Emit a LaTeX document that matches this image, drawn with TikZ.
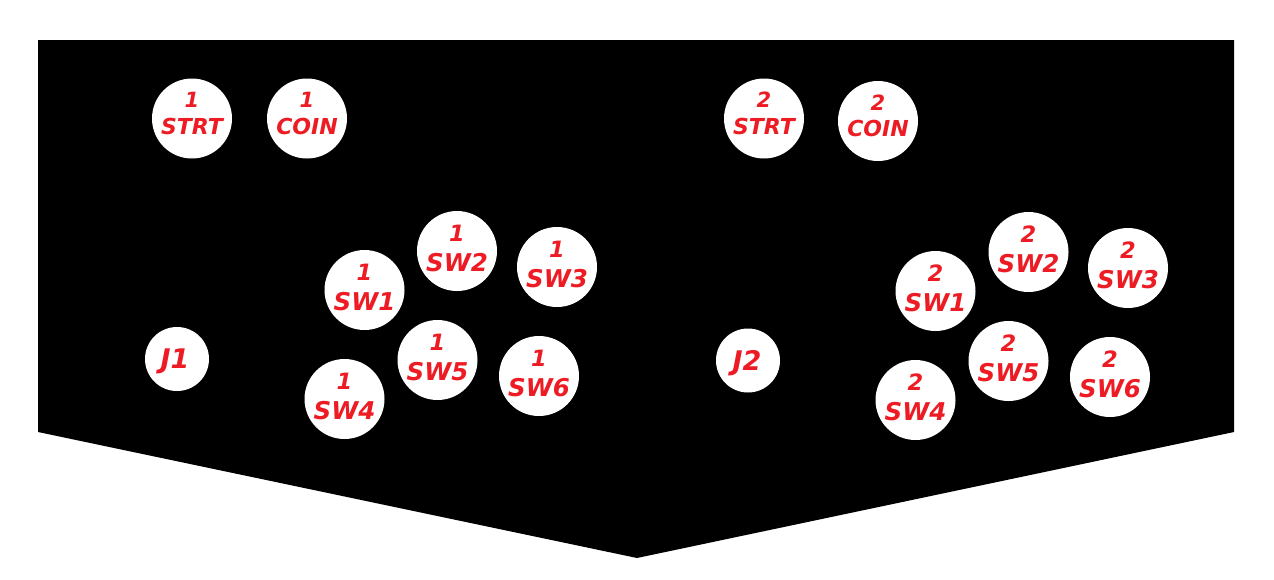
\documentclass[tikz,border=0pt]{standalone}
\usepackage{fontspec}
\newfontfamily\btnfont{DejaVu Sans}
\definecolor{btnred}{HTML}{ED1C24}
\tikzset{
  btn/.style={circle, fill=white, draw=none, inner sep=0pt, minimum size=80pt},
  joy/.style={circle, fill=white, draw=none, inner sep=0pt, minimum size=64pt},
  lbl/.style={text=btnred, inner sep=0pt, anchor=base},
  numA/.style={lbl, font=\btnfont\bfseries\itshape\fontsize{21}{22}\selectfont},
  wordA/.style={lbl, font=\btnfont\bfseries\itshape\fontsize{22}{23}\selectfont},
  numB/.style={lbl, font=\btnfont\bfseries\itshape\fontsize{22.5}{23}\selectfont},
  wordB/.style={lbl, font=\btnfont\bfseries\itshape\fontsize{24.5}{25}\selectfont},
  jlbl/.style={lbl, font=\btnfont\bfseries\itshape\fontsize{27}{28}\selectfont},
}
\newcommand\smallbtn[5]{%
  \node[btn] (#1) at (#2,#3) {};
  \node[numA] (#1-a) at ([yshift=11pt]#1.center) {#4};
  \node[wordA] (#1-b) at ([yshift=-15.5pt]#1.center) {#5};
}
\newcommand\swbtn[5]{%
  \node[btn] (#1) at (#2,#3) {};
  \node[numB] (#1-a) at ([yshift=9.5pt]#1.center) {#4};
  \node[wordB] (#1-b) at ([yshift=-20.5pt]#1.center) {#5};
}
\begin{document}
\begin{tikzpicture}[x=1pt,y=-1pt]
\useasboundingbox (0,0) rectangle (1274,579);
\fill[black] (38,40) -- (1234,40) -- (1234,432) -- (637,558) -- (38,432) -- cycle;
% player 1
\smallbtn{p1strt}{192}{118.5}{1}{STRT}
\smallbtn{p1coin}{307}{118.5}{1}{COIN}
\swbtn{p1sw1}{364.5}{290}{1}{SW1}
\swbtn{p1sw2}{457}{251}{1}{SW2}
\swbtn{p1sw3}{557}{267}{1}{SW3}
\swbtn{p1sw4}{344.5}{399}{1}{SW4}
\swbtn{p1sw5}{437.5}{360}{1}{SW5}
\swbtn{p1sw6}{539}{376}{1}{SW6}
\node[joy] (j1) at (177,359) {};
\node[jlbl] (j1-t) at ([xshift=-2pt,yshift=-9.5pt]j1.center) {J1};
% player 2
\smallbtn{p2strt}{764}{118.5}{2}{STRT}
\smallbtn{p2coin}{878}{121}{2}{COIN}
\swbtn{p2sw1}{935.5}{291}{2}{SW1}
\swbtn{p2sw2}{1028.5}{252}{2}{SW2}
\swbtn{p2sw3}{1128}{268}{2}{SW3}
\swbtn{p2sw4}{915.5}{400}{2}{SW4}
\swbtn{p2sw5}{1008.5}{361}{2}{SW5}
\swbtn{p2sw6}{1110}{377}{2}{SW6}
\node[joy] (j2) at (748,360.5) {};
\node[jlbl] (j2-t) at ([xshift=-1pt,yshift=-9.5pt]j2.center) {J2};
\end{tikzpicture}
\end{document}
